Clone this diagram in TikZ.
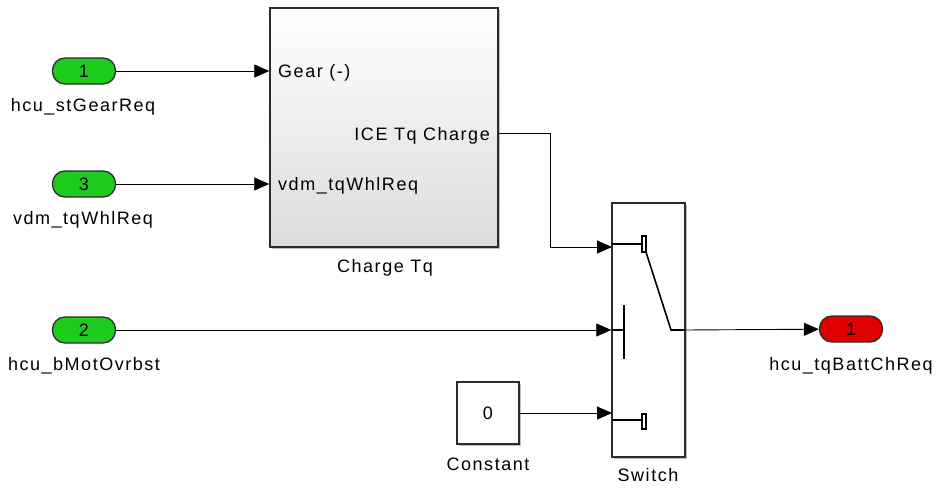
\documentclass[tikz,border=0pt]{standalone}
\usepackage{fontspec}
\setmainfont{Liberation Sans}[LetterSpace=8.5]
\usepackage{tikz}
\usetikzlibrary{arrows.meta,calc,positioning,shadows}
\definecolor{portgreen}{HTML}{1ECC1E}
\definecolor{portred}{HTML}{E00000}
\definecolor{edge}{HTML}{2B2B2B}
\definecolor{shade}{HTML}{DCDCDC}
\tikzset{
  >={Triangle[length=15pt,width=13pt]},
  every node/.style={font=\fontsize{18}{21}\selectfont,inner sep=0pt},
  port/.style={rectangle,rounded corners=12.5pt,draw=edge,line width=1.3pt,fill=portgreen,minimum width=63pt,minimum height=26pt},
  outport/.style={port,fill=portred},
  blk/.style={rectangle,draw=edge,line width=1.5pt,fill=white,general shadow={shadow xshift=2pt,shadow yshift=-2pt,fill=black!25}},
  sig/.style={->,line width=0.9pt},
  lbl/.style={anchor=base},
  pin/.style={line width=1.6pt},
  pinbox/.style={line width=1.2pt,fill=white},
}
\begin{document}
\begin{tikzpicture}[x=1pt,y=-1pt]
  \useasboundingbox (0,0) rectangle (938,488);
  \node[port] (in1) at (84,71) {1};
  \node[port] (in3) at (84,184) {3};
  \node[port] (in2) at (84,330) {2};
  \node[lbl] (in1name) at (83,111) {hcu\_stGearReq};
  \node[lbl] (in3name) at (83,224) {vdm\_tqWhlReq};
  \node[lbl] (in2name) at (84,370) {hcu\_bMotOvrbst};
  \node[blk,top color=white,bottom color=shade,minimum width=228pt,minimum height=239pt] (chg) at (384,127.5) {};
  \node[lbl] (chgname) at (385,272) {Charge Tq};
  \node[anchor=base west] (gear) at (278,77) {Gear (-)};
  \node[anchor=base west] (whl) at (278,190) {vdm\_tqWhlReq};
  \node[anchor=base east] (ice) at (490,140) {ICE Tq Charge};
  \node[blk,minimum width=73pt,minimum height=254pt] (sw) at (648.5,330) {};
  \node[lbl] (swname) at (648,481) {Switch};
  \node[blk,minimum width=62pt,minimum height=62pt] (const) at (488,413) {0};
  \node[lbl] (constname) at (488,470) {Constant};
  \node[outport] (out1) at (851,329) {1};
  \node[lbl] (out1name) at (851,370) {hcu\_tqBattChReq};
  \coordinate (chgout) at (498,133);
  \coordinate (swin1) at (612,247);
  \coordinate (swin3) at (612,413);
  \coordinate (swout) at (685,330);
  \draw[sig] (in1) -- (in1 -| chg.west);
  \draw[sig] (in3) -- (in3 -| chg.west);
  \draw[sig] (in2) -- (in2 -| sw.west);
  \draw[sig] (chgout) -- (550,133) |- (swin1);
  \draw[sig] (const) -- (swin3);
  \draw[sig] (swout) -- (out1);
  \draw[pin] (612,244) -- (642,244);
  \draw[pin] (646,252) -- (671,330) -- (swout);
  \draw[pinbox] (642,236) rectangle (646,252);
  \draw[pin] (612,330) -- (624,330) (624,305) -- (624,359);
  \draw[pin] (612,420) -- (642,420);
  \draw[pinbox] (642,414) rectangle (646,429);
\end{tikzpicture}
\end{document}
